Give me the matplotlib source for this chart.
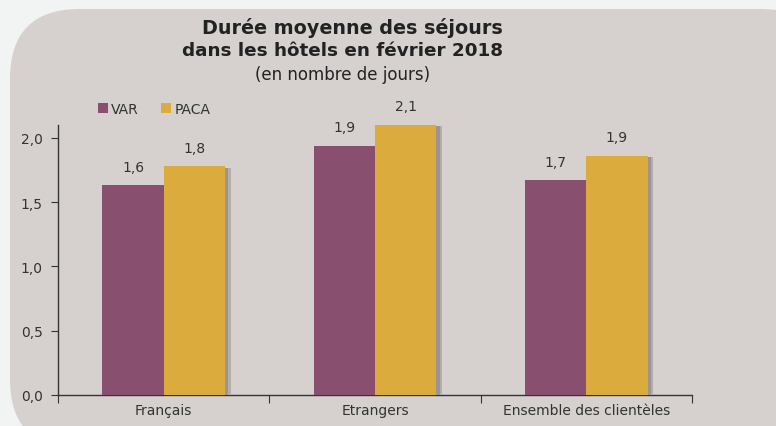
import numpy as np
import matplotlib
matplotlib.use('Agg')
import matplotlib.pyplot as plt
from matplotlib.patches import FancyBboxPatch, Patch
import matplotlib.patheffects as pe

# Data
categories = ['Français', 'Etrangers', 'Ensemble des clientèles']
var_values = [1.63, 1.94, 1.67]
paca_values = [1.78, 2.10, 1.86]
var_labels = ['1,6', '1,9', '1,7']
paca_labels = ['1,8', '2,1', '1,9']
yticks = [0.0, 0.5, 1.0, 1.5, 2.0]
ytick_labels = ['0,0', '0,5', '1,0', '1,5', '2,0']

W, H = 776, 427
var_color = '#88506e'
paca_color = '#dcab3d'
text_color = '#333333'

plt.rcParams['font.family'] = 'DejaVu Sans'

fig = plt.figure(figsize=(W / 100, H / 100), dpi=100)
fig.patch.set_facecolor('#f2f3f3')

# rounded background panel (pixel coords)
bg = fig.add_axes([0, 0, 1, 1], zorder=-1)
bg.set_xlim(0, W)
bg.set_ylim(H, 0)
bg.axis('off')
bg.add_patch(FancyBboxPatch((10, 10), 820, 440,
                            boxstyle='round,pad=0,rounding_size=70',
                            facecolor='#d6d1ce', edgecolor='none'))

# main axes: x 58..692 px, y 126..396 px
ax = fig.add_axes([58 / W, 1 - 396 / H, (692 - 58) / W, (396 - 126) / H])
ax.set_facecolor('none')

x = np.arange(len(categories))
bw = 0.29
# soft drop shadow: two offset layers
shadow = [pe.SimplePatchShadow(offset=(4, -1), shadow_rgbFace='#b3aeab', alpha=1.0),
          pe.SimplePatchShadow(offset=(2.5, -1), shadow_rgbFace='#9a9592', alpha=1.0),
          pe.Normal()]
b1 = ax.bar(x - bw / 2, var_values, bw, color=var_color, path_effects=shadow, zorder=3)
b2 = ax.bar(x + bw / 2, paca_values, bw, color=paca_color, path_effects=shadow, zorder=3)

for rect, lab in zip(b1, var_labels):
    ax.text(rect.get_x() + rect.get_width() / 2, rect.get_height() + 0.09, lab,
            ha='center', va='bottom', fontsize=10, color=text_color)
for rect, lab in zip(b2, paca_labels):
    ax.text(rect.get_x() + rect.get_width() / 2, rect.get_height() + 0.09, lab,
            ha='center', va='bottom', fontsize=10, color=text_color)

ax.set_xlim(-0.5, len(categories) - 0.5)
ax.set_ylim(0, 2.1)
ax.set_yticks(yticks)
ax.set_yticklabels(ytick_labels, fontsize=10, color=text_color)
ax.set_xticks(np.arange(len(categories) + 1) - 0.5)
ax.set_xticklabels([])
ax.set_xticks(x, minor=True)
ax.set_xticklabels(categories, minor=True, fontsize=10, color=text_color)
ax.tick_params(axis='x', which='major', length=6, direction='out', color='#333333')
ax.tick_params(axis='x', which='minor', length=0, pad=6)
ax.tick_params(axis='y', length=5, direction='out', color='#333333', pad=6)

for s in ['top', 'right']:
    ax.spines[s].set_visible(False)
for s in ['left', 'bottom']:
    ax.spines[s].set_color('#333333')
    ax.spines[s].set_linewidth(1.0)

handles = [Patch(facecolor=var_color, label='VAR'), Patch(facecolor=paca_color, label='PACA')]
ax.legend(handles=handles, loc='upper left', bbox_to_anchor=(91 / W, 1 - 96 / H),
          bbox_transform=fig.transFigure, ncol=2, frameon=False, fontsize=10,
          handlelength=0.7, handleheight=0.7, handletextpad=0.25, columnspacing=1.6,
          borderpad=0, labelcolor=text_color)

fig.text(352 / W, 1 - 28 / H, 'Durée moyenne des séjours', ha='center', va='center',
         fontsize=13.8, fontweight='bold', color='#222222')
fig.text(343 / W, 1 - 51 / H, 'dans les hôtels en février 2018', ha='center', va='center',
         fontsize=13.2, fontweight='bold', color='#222222')
fig.text(343 / W, 1 - 75 / H, '(en nombre de jours)', ha='center', va='center',
         fontsize=12, color='#222222')

fig.savefig('out.png', dpi=100, facecolor=fig.get_facecolor())
